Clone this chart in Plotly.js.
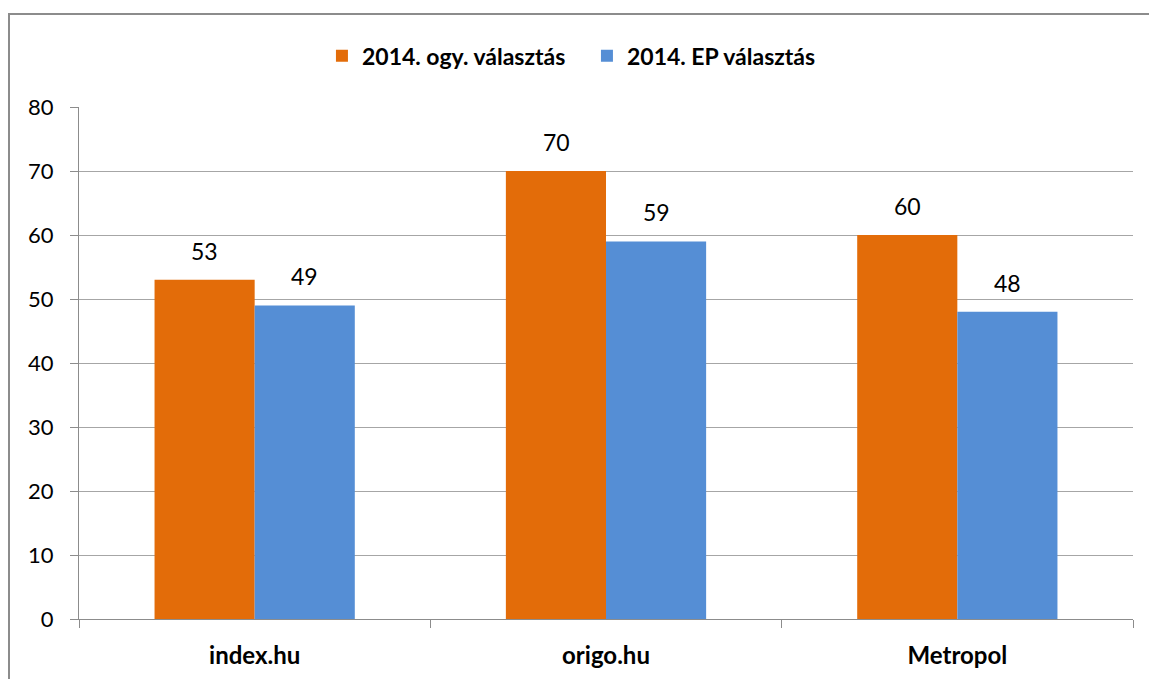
<!DOCTYPE html>
<html>
<head>
<meta charset="utf-8">
<script src="https://cdn.plot.ly/plotly-3.0.1.min.js"></script>
<style>
html,body{margin:0;padding:0;background:#fff;}
#wrap{position:relative;width:1149px;height:679px;overflow:hidden;}
#frame{position:absolute;left:8px;top:13px;width:1200px;height:700px;border-left:2px solid #8c8c8c;border-top:2px solid #8c8c8c;pointer-events:none;}
#chart{position:absolute;left:0;top:0;width:1149px;height:679px;}
</style>
</head>
<body>
<div id="wrap"><div id="chart"></div><div id="frame"></div></div>
<script>
const categories = ["index.hu", "origo.hu", "Metropol"];
const seriesNames = ["2014. ogy. választás", "2014. EP választás"];
const ogyValues = [53, 70, 60];
const epValues = [49, 59, 48];
const yTicks = [0, 10, 20, 30, 40, 50, 60, 70, 80];

const FONT = "Lato, 'Open Sans', sans-serif";
const colors = ["#E36C09", "#558ED5"];
const seriesValues = [ogyValues, epValues];

const traces = seriesValues.map((vals, i) => ({
  type: "bar",
  name: seriesNames[i],
  x: categories,
  y: vals,
  marker: {color: colors[i], line: {width: 0}},
  hoverinfo: "x+y"
}));

const annotations = [];
seriesValues.forEach((vals, i) => {
  vals.forEach((v, j) => {
    annotations.push({
      x: categories[j], y: v, xref: "x", yref: "y",
      text: String(v), showarrow: false,
      xshift: i === 0 ? -50 : 50, yshift: 13,
      yanchor: "bottom",
      font: {family: FONT, size: 23, color: "#000"}
    });
  });
});

const layout = {
  width: 1149, height: 679,
  margin: {l: 79, r: 16, t: 107, b: 60, pad: 0},
  paper_bgcolor: "rgba(0,0,0,0)",
  plot_bgcolor: "#fff",
  barmode: "group",
  bargap: 0.43,
  bargroupgap: 0,
  showlegend: true,
  legend: {
    orientation: "h", x: 0.2305, xanchor: "left", y: 1.1, yanchor: "middle",
    font: {family: FONT, size: 23, color: "#000", weight: "bold"},
    itemclick: false, itemdoubleclick: false,
    itemwidth: 30,
    entrywidth: 220, entrywidthmode: "pixels",
    traceorder: "normal"
  },
  xaxis: {
    type: "category",
    showgrid: false,
    showline: true, linecolor: "#8c8c8c", linewidth: 1,
    ticks: "outside", tickson: "boundaries", ticklen: 8, tickcolor: "#8c8c8c",
    ticklabelstandoff: 15,
    tickfont: {family: FONT, size: 24, color: "#000", weight: "bold"},
    fixedrange: true
  },
  yaxis: {
    range: [0, 80],
    tickmode: "array", tickvals: yTicks, ticktext: yTicks.map(String),
    showgrid: true, gridcolor: "#a6a6a6", gridwidth: 1,
    showline: true, linecolor: "#8c8c8c", linewidth: 1,
    ticks: "outside", ticklen: 8, tickcolor: "#8c8c8c",
    ticklabelstandoff: 12,
    zeroline: false,
    tickfont: {family: FONT, size: 22, color: "#000"},
    fixedrange: true
  },
  annotations: annotations
};

Plotly.newPlot("chart", traces, layout, {displayModeBar: false, staticPlot: true});
</script>
</body>
</html>
